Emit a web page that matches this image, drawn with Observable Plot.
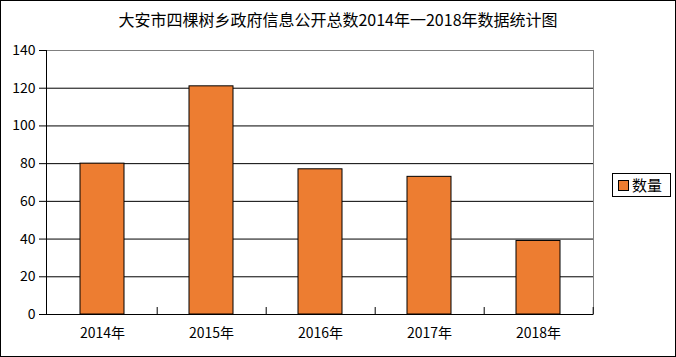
<!DOCTYPE html>
<html><head><meta charset="utf-8">
<script src="https://cdn.jsdelivr.net/npm/d3@7"></script>
<script src="https://cdn.jsdelivr.net/npm/@observablehq/plot@0.6"></script>
<style>
body{margin:0;background:#fff;}
#chart{position:relative;width:674px;height:355px;border:1px solid #000;font-family:"Noto Sans CJK SC","Noto Sans",sans-serif;overflow:hidden;background:#fff}
#title{height:36px;line-height:36px;text-align:center;font-size:16px;color:#000}
#legend{position:absolute;left:611px;top:172px;width:57px;height:22px;border:1px solid #000;background:#fff;font-size:15px;line-height:22px;color:#000}
#legend .sw{position:absolute;left:5px;top:6px;width:9px;height:9px;border:1px solid #000;background:#ED7D31}
#legend .tx{position:absolute;left:19px;top:0}
#plot svg{display:block}
</style>
</head><body>
<div id="chart">
  <div id="title"></div>
  <div id="plot"></div>
  <div id="legend"><span class="sw"></span><span class="tx"></span></div>
</div>
<script>
const title = "大安市四棵树乡政府信息公开总数2014年一2018年数据统计图";
const seriesName = "数量";
const years = ["2014年", "2015年", "2016年", "2017年", "2018年"];
const counts = [80, 121, 77, 73, 39];
const yTicks = [0, 20, 40, 60, 80, 100, 120, 140];

document.getElementById("title").textContent = title;
document.querySelector("#legend .tx").textContent = seriesName;

const data = years.map((y, i) => ({year: y, count: counts[i]}));
const W = 674, H = 319, ML = 45, MR = 82;
const step = (W - ML - MR) / years.length;

const chart = Plot.plot({
  width: W, height: H,
  marginLeft: ML, marginRight: MR, marginTop: 13, marginBottom: 42,
  style: {fontFamily: '"Noto Sans CJK SC","Noto Sans",sans-serif', fontSize: "14px", color: "#000", background: "#fff"},
  x: {domain: years, paddingInner: 0.6, paddingOuter: 0.3, label: null},
  y: {domain: [0, 140], label: null},
  marks: [
    Plot.ruleY(yTicks.filter(d => d > 0 && d < 140), {stroke: "#000", strokeWidth: 1}),
    Plot.frame({stroke: "#808080"}),
    Plot.barY(data, {x: "year", y: "count", fill: "#ED7D31", stroke: "#000", strokeWidth: 1}),
    Plot.ruleY([0], {stroke: "#000"}),
    Plot.frame({anchor: "left", stroke: "#000"}),
    Plot.ruleX(years, {x: d => d, y1: 0, y2: 3.7, dx: step / 2, stroke: "#000"}),
    Plot.axisY({ticks: yTicks, tickSize: 7, tickPadding: 4, label: null, tickFormat: d => d}),
    Plot.axisX({tickSize: 0, tickPadding: 14, label: null})
  ]
});
document.getElementById("plot").appendChild(chart);
</script>
</body></html>
